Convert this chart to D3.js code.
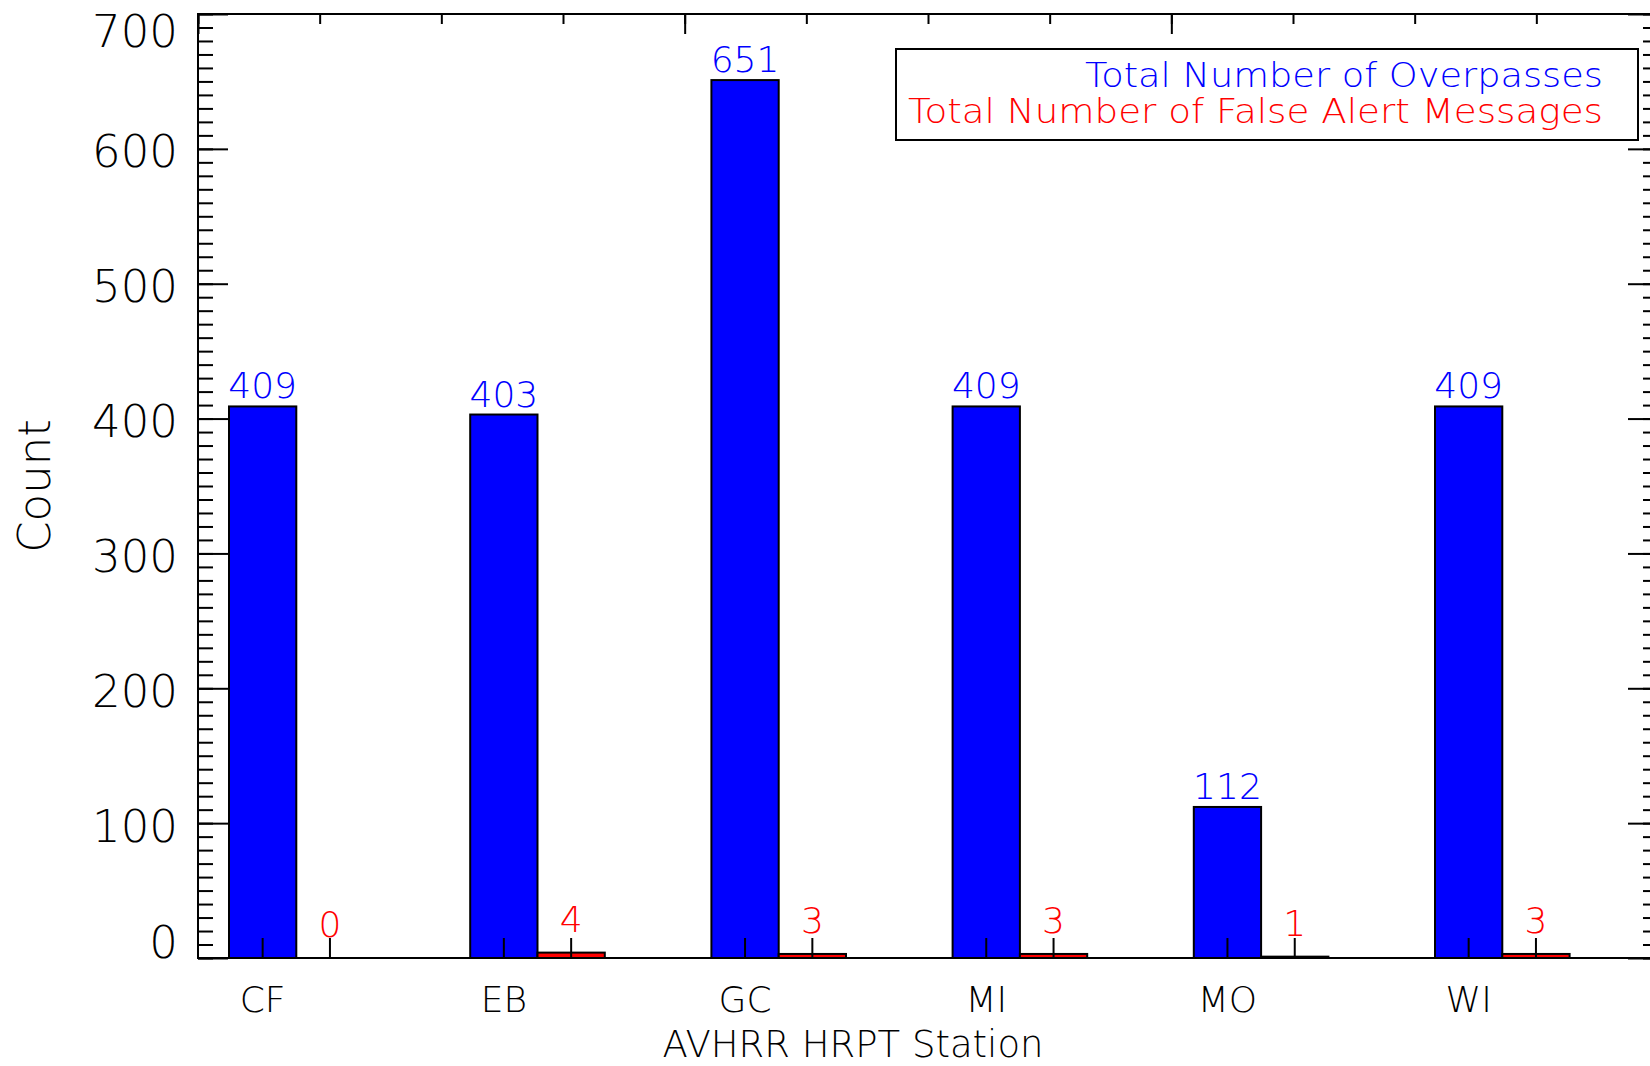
<!DOCTYPE html>
<html>
<head>
<meta charset="utf-8">
<script src="https://cdn.jsdelivr.net/npm/d3@7"></script>
<style>
  html, body { margin: 0; padding: 0; background: #fff; }
  svg { display: block; }
</style>
</head>
<body>
<svg id="chart" width="1650" height="1066"></svg>
<script>
// Station codes along the x axis
const stations = ["CF", "EB", "GC", "MI", "MO", "WI"];
// Counts per station
const overpasses = [409, 403, 651, 409, 112, 409];
const falseAlerts = [0, 4, 3, 3, 1, 3];
// Series labels and colours
const seriesNames = ["Total Number of Overpasses", "Total Number of False Alert Messages"];
const seriesColors = ["#0000ff", "#ff0000"];
// Axis labelling
const yTickValues = [0, 100, 200, 300, 400, 500, 600, 700];
const yTitle = "Count";
const xTitle = "AVHRR HRPT Station";

const FONT = '"DejaVu Sans", "Liberation Sans", sans-serif';
const W = 1650, H = 1066;
const plot = { left: 198, right: 1658, top: 14, bottom: 958 };

const svg = d3.select("#chart");

const y = d3.scaleLinear().domain([0, 700]).range([plot.bottom, plot.top]);
// frame scale used for the top axis ticks
const xFrame = d3.scaleLinear().domain([0, 6]).range([plot.left, plot.right]);

// group positions and bar positions within a group
const groupStep = 241.2;
const x0 = d3.scaleBand().domain(stations)
  .range([plot.left, plot.left + groupStep * stations.length]).padding(0);
const x1 = d3.scaleBand().domain([0, 1]).range([31, 31 + 2 * 67.3]).padding(0);

const rows = stations.map((s, i) => ({ station: s, values: [overpasses[i], falseAlerts[i]] }));
const bars = [];
rows.forEach(r => r.values.forEach((v, k) => bars.push({ station: r.station, k, v })));
const barCenter = d => x0(d.station) + x1(d.k) + x1.bandwidth() / 2;

// bars
svg.append("g").selectAll("rect").data(bars).join("rect")
  .attr("x", d => x0(d.station) + x1(d.k))
  .attr("y", d => y(d.v))
  .attr("width", x1.bandwidth())
  .attr("height", d => y(0) - y(d.v))
  .attr("fill", d => seriesColors[d.k])
  .attr("stroke", "#000")
  .attr("stroke-width", 2);

// ticks marking each bar position on the bottom axis
svg.append("g").selectAll("line").data(bars).join("line")
  .attr("x1", barCenter).attr("x2", barCenter)
  .attr("y1", plot.bottom).attr("y2", plot.bottom - 20)
  .attr("stroke", "#000").attr("stroke-width", 2);

// value labels
svg.append("g").selectAll("text").data(bars).join("text")
  .attr("x", barCenter)
  .attr("y", d => y(d.v) - (d.k === 0 ? 8 : 21))
  .attr("text-anchor", "middle")
  .attr("font-family", FONT).attr("font-weight", 200)
  .attr("font-size", 36)
  .attr("fill", d => seriesColors[d.k])
  .text(d => d.v);

// y axes (left and right), ticks pointing into the plot
function yAxes(g, axisFn, xPos) {
  g.append("g").attr("transform", `translate(${xPos},0)`)
    .call(axisFn(y).tickValues(d3.range(0, 701, 10)).tickSize(15).tickFormat(""))
    .call(a => a.select(".domain").remove());
  g.append("g").attr("transform", `translate(${xPos},0)`)
    .call(axisFn(y).tickValues(yTickValues).tickSize(30).tickFormat(""))
    .call(a => a.select(".domain").remove());
}
const axG = svg.append("g");
yAxes(axG, d3.axisRight, plot.left);
yAxes(axG, d3.axisLeft, plot.right);

// top axis ticks pointing down
axG.append("g").attr("transform", `translate(0,${plot.top})`)
  .call(d3.axisBottom(xFrame).tickValues(d3.range(0, 6.01, 0.5)).tickSize(10).tickFormat(""))
  .call(a => a.select(".domain").remove());
axG.append("g").attr("transform", `translate(0,${plot.top})`)
  .call(d3.axisBottom(xFrame).tickValues([0, 2, 4, 6]).tickSize(20).tickFormat(""))
  .call(a => a.select(".domain").remove());

axG.selectAll(".tick line").attr("stroke", "#000").attr("stroke-width", 2);

// frame
axG.append("rect")
  .attr("x", plot.left).attr("y", plot.top)
  .attr("width", plot.right - plot.left).attr("height", plot.bottom - plot.top)
  .attr("fill", "none").attr("stroke", "#000").attr("stroke-width", 2);

// y tick labels, kept inside the axis span
const half = 16.5;
svg.append("g").selectAll("text").data(yTickValues).join("text")
  .attr("x", plot.left - 20)
  .attr("y", d => Math.min(plot.bottom - half, Math.max(plot.top + half, y(d) + 2)))
  .attr("dy", "0.365em")
  .attr("text-anchor", "end")
  .attr("font-family", FONT).attr("font-weight", 200)
  .attr("font-size", 45).attr("fill", "#000")
  .text(d => d);

// y title
svg.append("text")
  .attr("transform", `translate(34,486) rotate(-90)`)
  .attr("dy", "0.365em")
  .attr("text-anchor", "middle")
  .attr("font-family", FONT).attr("font-weight", 200)
  .attr("font-size", 45).attr("fill", "#000")
  .text(yTitle);

// station labels
svg.append("g").selectAll("text").data(stations).join("text")
  .attr("x", s => x0(s) + x1(0) + x1.bandwidth() / 2)
  .attr("y", 1012)
  .attr("text-anchor", "middle")
  .attr("font-family", FONT).attr("font-weight", 200)
  .attr("font-size", 36).attr("fill", "#000")
  .text(s => s);

// x title
svg.append("text")
  .attr("x", 853).attr("y", 1057)
  .attr("text-anchor", "middle")
  .attr("font-family", FONT).attr("font-weight", 200)
  .attr("font-size", 37).attr("fill", "#000")
  .text(xTitle);

// legend
const legend = svg.append("g");
legend.append("rect")
  .attr("x", 896).attr("y", 49).attr("width", 742).attr("height", 91)
  .attr("fill", "#fff").attr("stroke", "#000").attr("stroke-width", 2);
const legendWidths = [518, 695];
legend.selectAll("text").data(seriesNames).join("text")
  .attr("x", 1603)
  .attr("y", (d, i) => 87 + i * 36)
  .attr("text-anchor", "end")
  .attr("font-family", FONT).attr("font-weight", 200)
  .attr("font-size", 34)
  .attr("textLength", (d, i) => legendWidths[i])
  .attr("lengthAdjust", "spacingAndGlyphs")
  .attr("fill", (d, i) => seriesColors[i])
  .text(d => d);
</script>
</body>
</html>
